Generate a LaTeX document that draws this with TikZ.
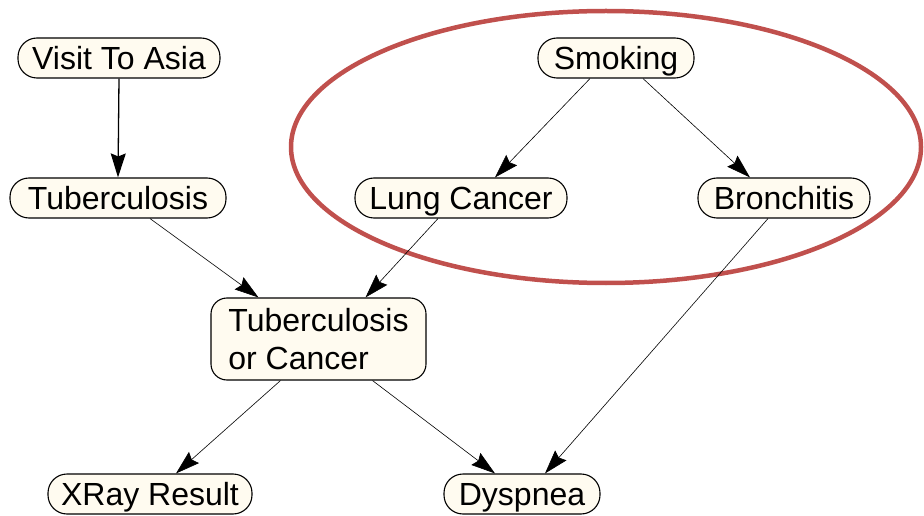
\documentclass[tikz,border=0pt]{standalone}
\usepackage{fontspec}
\setmainfont{Liberation Sans}
\usetikzlibrary{arrows.meta}
\definecolor{nodefill}{HTML}{FFFBF0}
\definecolor{ringred}{HTML}{C0504D}
\begin{document}
\begin{tikzpicture}[x=1pt,y=1pt,
  netnode/.style={draw=black, line width=1.1pt, fill=nodefill, rounded corners=19pt,
    inner sep=0pt, minimum height=40pt, text height=30pt, text depth=7pt,
    font=\fontsize{32}{38}\selectfont},
  link/.style={line width=0.6pt, -{Stealth[length=24pt,width=15pt,inset=3pt]}},
  strong/.style={line width=1.3pt, -{Stealth[length=24pt,width=15pt,inset=3pt]}}
]
\useasboundingbox (0,0) rectangle (924,515);
\draw[ringred, line width=4.5pt] (606,368) ellipse [x radius=315, y radius=136];
\node[netnode, minimum width=202pt] (asia) at (119,457) {Visit To Asia};
\node[netnode, minimum width=216pt] (tb) at (118,317) {Tuberculosis};
\node[netnode, minimum width=156pt] (smk) at (616,457) {Smoking};
\node[netnode, minimum width=212pt] (lc) at (461,317) {Lung Cancer};
\node[netnode, minimum width=172pt] (br) at (784,317) {Bronchitis};
\node[netnode, minimum width=215pt, minimum height=82pt, text height=, text depth=, align=left, rounded corners=16pt] (torc) at (318.5,176) {Tuberculosis\\or Cancer};
\node[netnode, minimum width=204pt] (xr) at (150,21) {XRay Result};
\node[netnode, minimum width=156pt] (dys) at (522,21) {Dyspnea};
\draw[strong] (asia.south) -- (tb.north);
\draw[link] ([xshift=32pt]tb.south) -- ([xshift=-60pt]torc.north);
\draw[link] ([xshift=-23pt]lc.south) -- ([xshift=47pt]torc.north);
\draw[link] ([xshift=-26pt]smk.south) -- ([xshift=34pt]lc.north);
\draw[link] ([xshift=27pt]smk.south) -- ([xshift=-34pt]br.north);
\draw[link] ([xshift=-16pt]br.south) -- ([xshift=23pt]dys.north);
\draw[link] ([xshift=-38pt]torc.south) -- ([xshift=26pt]xr.north);
\draw[link] ([xshift=54pt]torc.south) -- ([xshift=-27pt]dys.north);
\end{tikzpicture}
\end{document}
